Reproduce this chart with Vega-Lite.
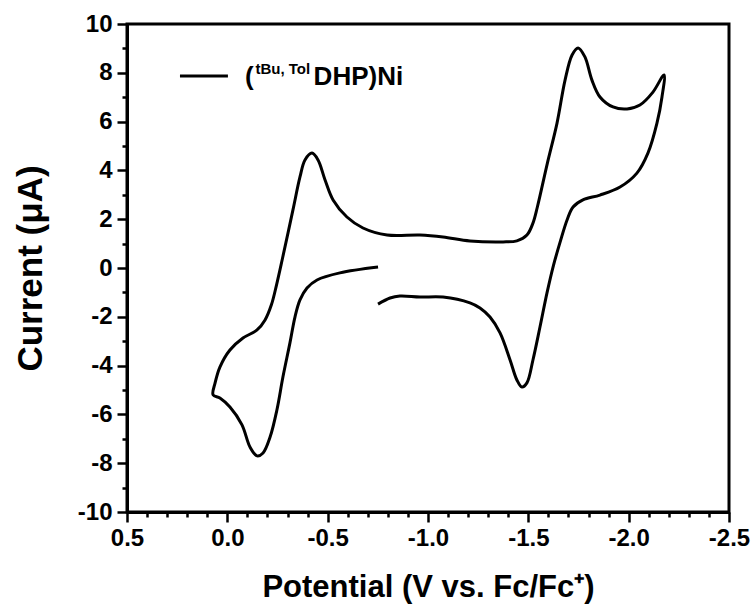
{
  "$schema": "https://vega.github.io/schema/vega-lite/v6.json",
  "width": 602,
  "height": 488,
  "autosize": {"type": "none"},
  "padding": {"left": 127, "top": 24, "right": 25, "bottom": 93},
  "background": "white",
  "config": {
    "view": {"stroke": "black", "strokeWidth": 3},
    "axis": {
      "grid": false,
      "domainColor": "black",
      "domainWidth": 3,
      "tickColor": "black",
      "tickWidth": 2.5,
      "labelFont": "Liberation Sans",
      "labelFontWeight": "bold",
      "labelFontSize": 24,
      "labelColor": "black",
      "labelOverlap": false,
      "labelBound": false,
      "labelFlush": false,
      "titleFont": "Liberation Sans",
      "titleFontWeight": "bold",
      "titleColor": "black"
    },
    "text": {"font": "Liberation Sans", "fontWeight": "bold", "color": "black"}
  },
  "resolve": {"axis": {"x": "independent", "y": "independent"}},
  "datasets": {
    "cv": [
      {"i": 1, "V": -0.751, "I": 0.04},
      {"i": 2, "V": -0.561, "I": -0.2},
      {"i": 3, "V": -0.447, "I": -0.49},
      {"i": 4, "V": -0.397, "I": -0.82},
      {"i": 5, "V": -0.362, "I": -1.31},
      {"i": 6, "V": -0.337, "I": -2.01},
      {"i": 7, "V": -0.312, "I": -3.07},
      {"i": 8, "V": -0.277, "I": -4.47},
      {"i": 9, "V": -0.247, "I": -5.82},
      {"i": 10, "V": -0.213, "I": -6.93},
      {"i": 11, "V": -0.178, "I": -7.58},
      {"i": 12, "V": -0.148, "I": -7.7},
      {"i": 13, "V": -0.113, "I": -7.34},
      {"i": 14, "V": -0.073, "I": -6.43},
      {"i": 15, "V": -0.013, "I": -5.7},
      {"i": 16, "V": 0.037, "I": -5.33},
      {"i": 17, "V": 0.071, "I": -5.2},
      {"i": 18, "V": 0.061, "I": -4.71},
      {"i": 19, "V": 0.037, "I": -4.06},
      {"i": 20, "V": -0.013, "I": -3.36},
      {"i": 21, "V": -0.078, "I": -2.87},
      {"i": 22, "V": -0.148, "I": -2.54},
      {"i": 23, "V": -0.188, "I": -2.13},
      {"i": 24, "V": -0.22, "I": -1.5},
      {"i": 25, "V": -0.245, "I": -0.7},
      {"i": 26, "V": -0.275, "I": 0.4},
      {"i": 27, "V": -0.327, "I": 2.38},
      {"i": 28, "V": -0.362, "I": 3.73},
      {"i": 29, "V": -0.387, "I": 4.43},
      {"i": 30, "V": -0.422, "I": 4.71},
      {"i": 31, "V": -0.452, "I": 4.43},
      {"i": 32, "V": -0.487, "I": 3.61},
      {"i": 33, "V": -0.527, "I": 2.79},
      {"i": 34, "V": -0.596, "I": 2.09},
      {"i": 35, "V": -0.676, "I": 1.64},
      {"i": 36, "V": -0.796, "I": 1.35},
      {"i": 37, "V": -0.96, "I": 1.35},
      {"i": 38, "V": -1.075, "I": 1.27},
      {"i": 39, "V": -1.209, "I": 1.11},
      {"i": 40, "V": -1.374, "I": 1.07},
      {"i": 41, "V": -1.443, "I": 1.11},
      {"i": 42, "V": -1.493, "I": 1.35},
      {"i": 43, "V": -1.523, "I": 1.84},
      {"i": 44, "V": -1.545, "I": 2.5},
      {"i": 45, "V": -1.595, "I": 4.3},
      {"i": 46, "V": -1.643, "I": 5.94},
      {"i": 47, "V": -1.683, "I": 7.7},
      {"i": 48, "V": -1.718, "I": 8.73},
      {"i": 49, "V": -1.748, "I": 9.02},
      {"i": 50, "V": -1.782, "I": 8.65},
      {"i": 51, "V": -1.817, "I": 7.7},
      {"i": 52, "V": -1.857, "I": 7.01},
      {"i": 53, "V": -1.922, "I": 6.6},
      {"i": 54, "V": -1.992, "I": 6.52},
      {"i": 55, "V": -2.056, "I": 6.68},
      {"i": 56, "V": -2.121, "I": 7.21},
      {"i": 57, "V": -2.176, "I": 7.91},
      {"i": 58, "V": -2.166, "I": 7.01},
      {"i": 59, "V": -2.141, "I": 5.94},
      {"i": 60, "V": -2.096, "I": 4.71},
      {"i": 61, "V": -2.041, "I": 3.89},
      {"i": 62, "V": -1.957, "I": 3.32},
      {"i": 63, "V": -1.857, "I": 2.99},
      {"i": 64, "V": -1.772, "I": 2.79},
      {"i": 65, "V": -1.723, "I": 2.5},
      {"i": 66, "V": -1.693, "I": 1.97},
      {"i": 67, "V": -1.658, "I": 1.05},
      {"i": 68, "V": -1.625, "I": 0.1},
      {"i": 69, "V": -1.593, "I": -1.02},
      {"i": 70, "V": -1.558, "I": -2.42},
      {"i": 71, "V": -1.523, "I": -3.77},
      {"i": 72, "V": -1.493, "I": -4.71},
      {"i": 73, "V": -1.468, "I": -4.88},
      {"i": 74, "V": -1.443, "I": -4.59},
      {"i": 75, "V": -1.409, "I": -3.77},
      {"i": 76, "V": -1.359, "I": -2.66},
      {"i": 77, "V": -1.309, "I": -2.01},
      {"i": 78, "V": -1.259, "I": -1.64},
      {"i": 79, "V": -1.209, "I": -1.43},
      {"i": 80, "V": -1.075, "I": -1.19},
      {"i": 81, "V": -0.96, "I": -1.19},
      {"i": 82, "V": -0.86, "I": -1.15},
      {"i": 83, "V": -0.811, "I": -1.23},
      {"i": 84, "V": -0.751, "I": -1.48}
    ]
  },
  "layer": [
    {
      "data": {"name": "cv"},
      "mark": {"type": "line", "color": "black", "strokeWidth": 3, "interpolate": "catmull-rom", "clip": true},
      "encoding": {
        "x": {
          "field": "V",
          "type": "quantitative",
          "scale": {"domain": [-2.5, 0.5], "reverse": true, "nice": false, "zero": false},
          "axis": {
            "orient": "bottom",
            "values": [0.5, 0.0, -0.5, -1.0, -1.5, -2.0, -2.5],
            "labelExpr": "replace(format(datum.value, '.1f'), '−', '-')",
            "labelOverlap": false,
            "labelFlush": false,
            "tickSize": 10,
            "labelPadding": 4,
            "title": "Potential (V vs. Fc/Fc⁺)",
            "titleFontSize": 31,
            "titlePadding": 22
          }
        },
        "y": {
          "field": "I",
          "type": "quantitative",
          "scale": {"domain": [-10, 10], "nice": false, "zero": false},
          "axis": {
            "orient": "left",
            "values": [-10, -8, -6, -4, -2, 0, 2, 4, 6, 8, 10],
            "labelExpr": "replace(format(datum.value, 'd'), '−', '-')",
            "labelOverlap": false,
            "labelFlush": false,
            "tickSize": 10,
            "labelPadding": 5,
            "title": "Current (μA)",
            "titleFontSize": 35,
            "titlePadding": 29
          }
        },
        "order": {"field": "i", "type": "quantitative"}
      }
    },
    {
      "data": {"values": [{}]},
      "mark": {"type": "rule", "color": "black", "strokeWidth": 3},
      "encoding": {
        "x": {
          "datum": 0.236,
          "type": "quantitative",
          "axis": {
            "orient": "bottom",
            "values": [0.4, 0.3, 0.2, 0.1, -0.1, -0.2, -0.3, -0.4, -0.6, -0.7, -0.8, -0.9, -1.1, -1.2, -1.3, -1.4, -1.6, -1.7, -1.8, -1.9, -2.1, -2.2, -2.3, -2.4],
            "labels": false,
            "domain": false,
            "tickSize": 5,
            "title": null
          }
        },
        "x2": {"datum": -0.003},
        "y": {
          "datum": 7.87,
          "type": "quantitative",
          "axis": {
            "orient": "left",
            "values": [-9, -7, -5, -3, -1, 1, 3, 5, 7, 9],
            "labels": false,
            "domain": false,
            "tickSize": 5,
            "title": null
          }
        }
      }
    },
    {
      "data": {"values": [{}]},
      "mark": {"type": "text", "text": "(", "fontSize": 26, "align": "left", "baseline": "alphabetic"},
      "encoding": {"x": {"datum": -0.088, "type": "quantitative", "axis": null}, "y": {"datum": 7.5, "type": "quantitative", "axis": null}}
    },
    {
      "data": {"values": [{}]},
      "mark": {"type": "text", "text": "tBu, Tol", "fontSize": 15, "align": "left", "baseline": "alphabetic"},
      "encoding": {"x": {"datum": -0.14, "type": "quantitative", "axis": null}, "y": {"datum": 7.97, "type": "quantitative", "axis": null}}
    },
    {
      "data": {"values": [{}]},
      "mark": {"type": "text", "text": "DHP)Ni", "fontSize": 26, "align": "left", "baseline": "alphabetic"},
      "encoding": {"x": {"datum": -0.43, "type": "quantitative", "axis": null}, "y": {"datum": 7.5, "type": "quantitative", "axis": null}}
    }
  ]
}
